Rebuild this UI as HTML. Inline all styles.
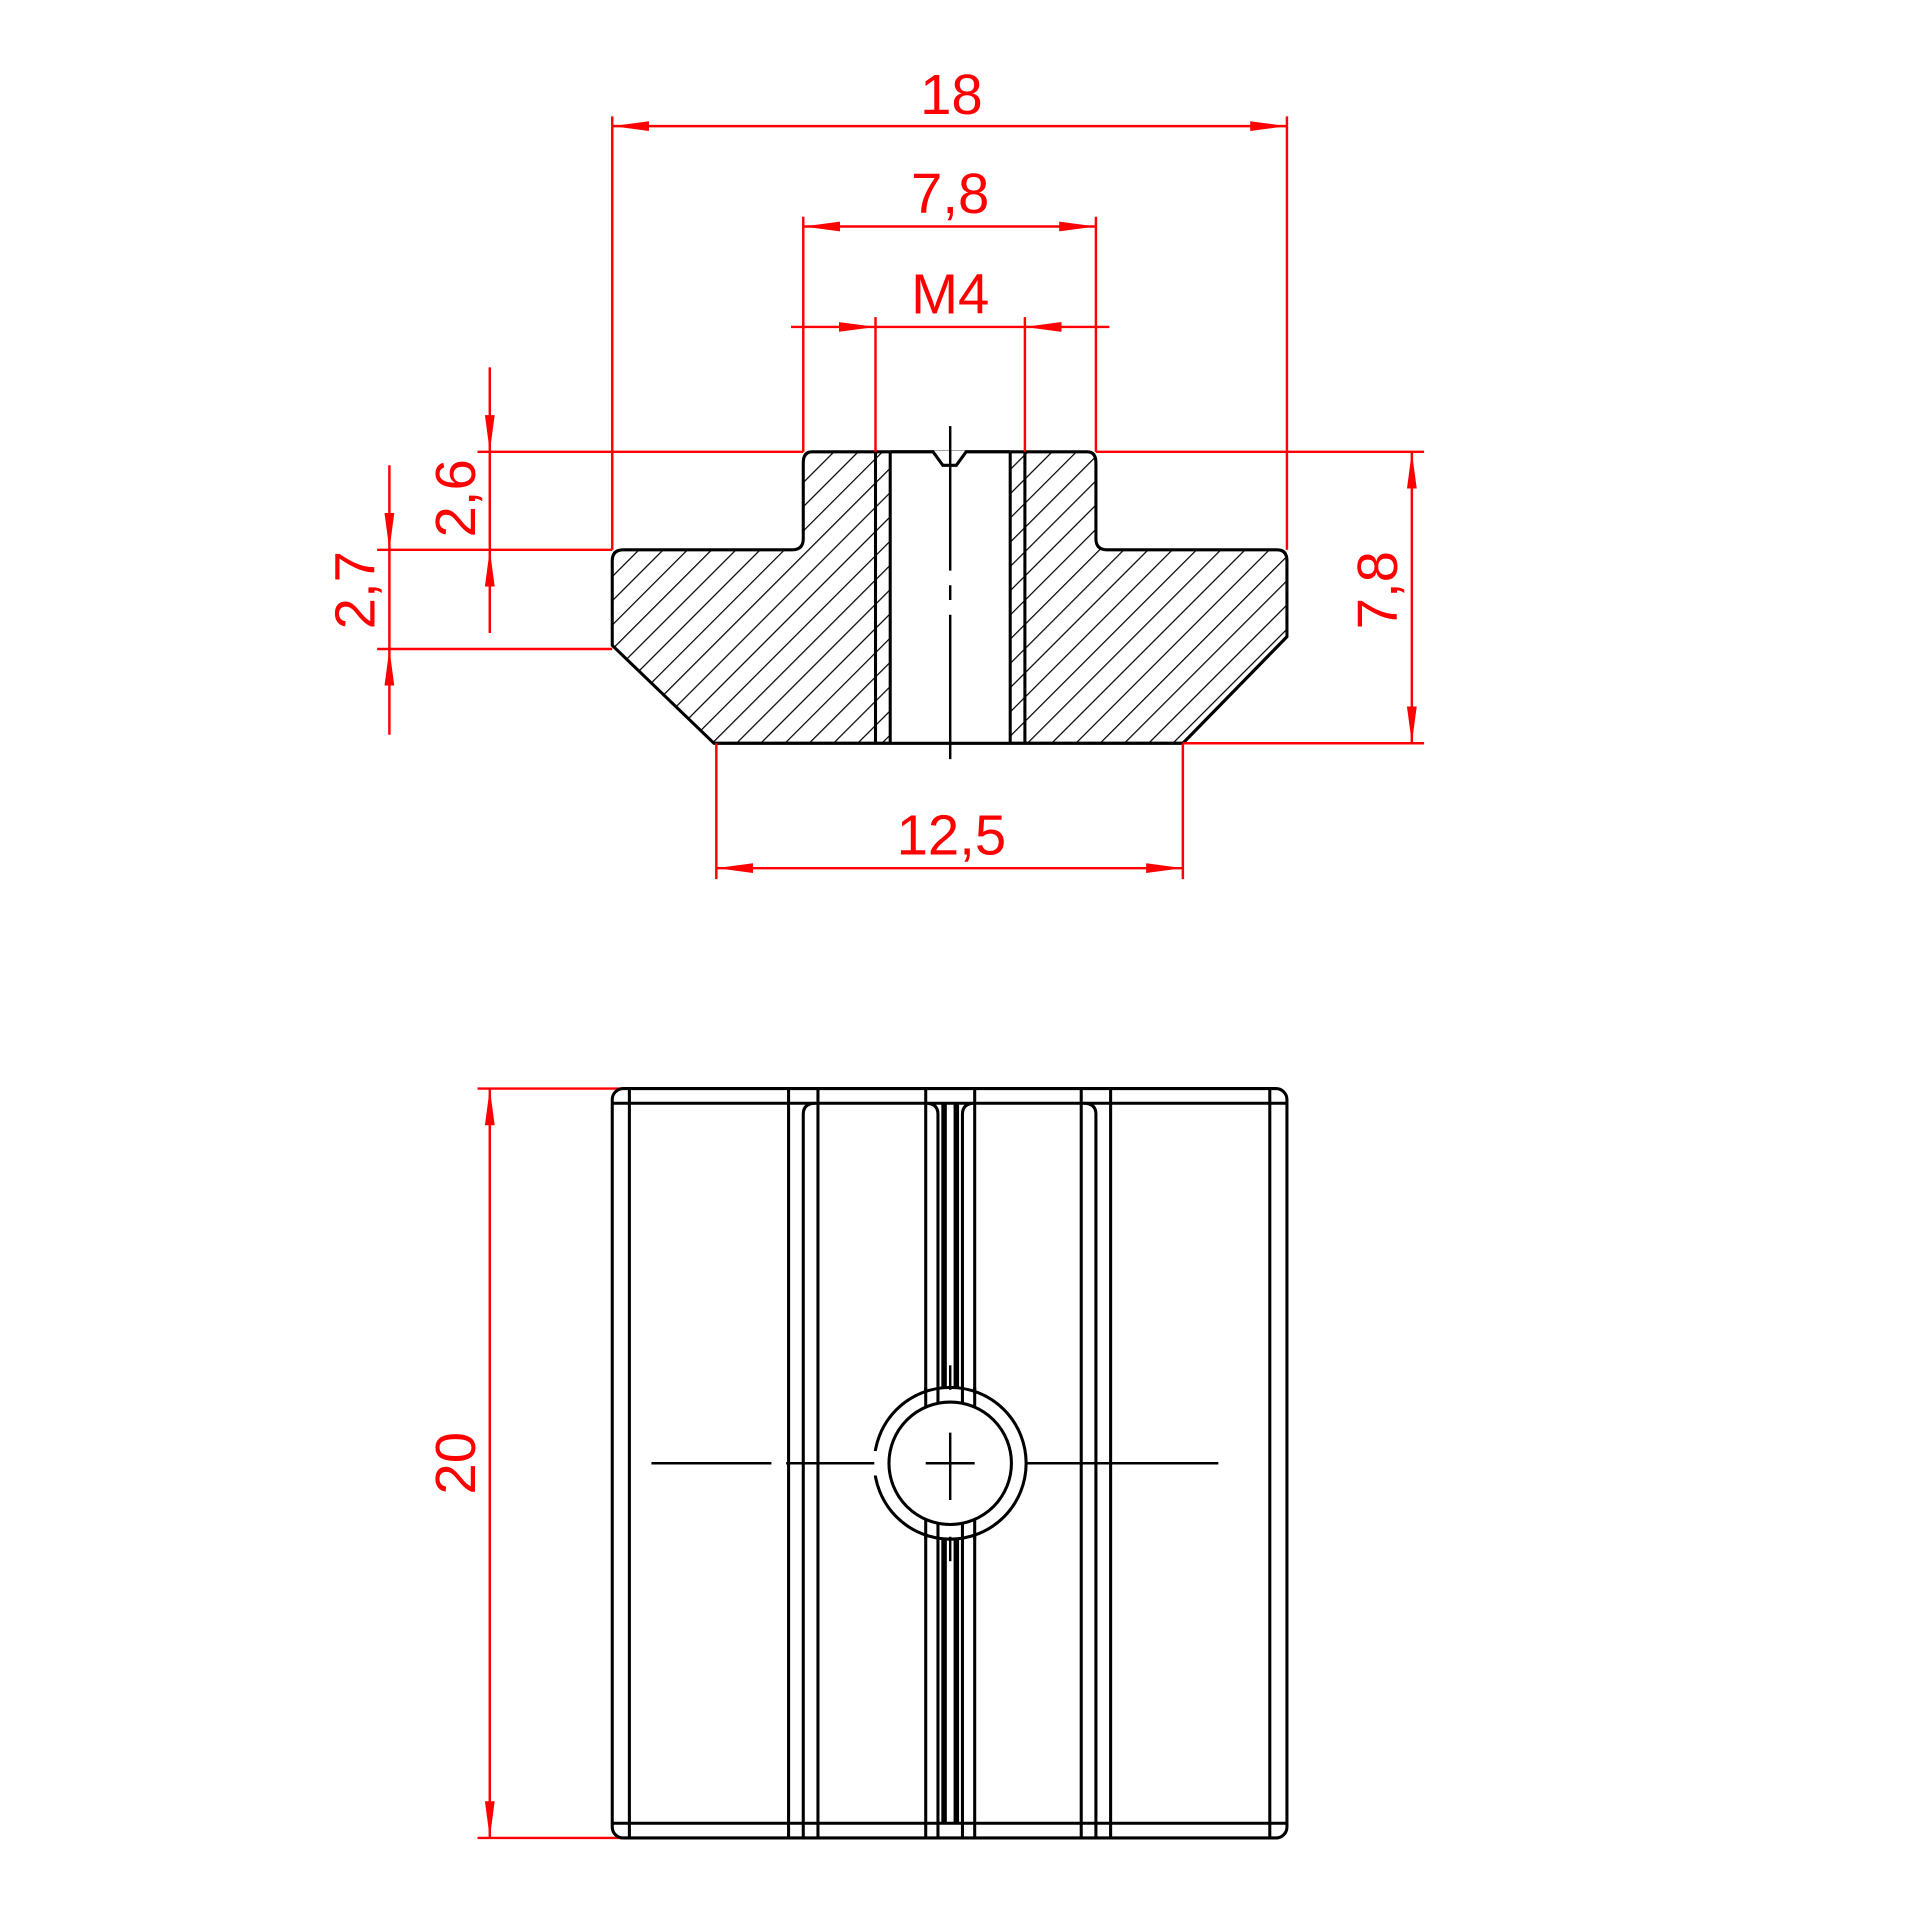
<!DOCTYPE html>
<html><head><style>html,body{margin:0;padding:0;background:#fff}svg{display:block}</style></head><body>
<svg width="1920" height="1920" viewBox="0 0 1568 1568" xmlns="http://www.w3.org/2000/svg">
<defs>
<pattern id="h" patternUnits="userSpaceOnUse" width="14" height="14" patternTransform="rotate(45)">
<line x1="0" y1="0" x2="0" y2="14" stroke="#000" stroke-width="2"/>
</pattern>
<marker id="a" viewBox="0 0 30 10" refX="30" refY="5" markerWidth="30" markerHeight="10" markerUnits="userSpaceOnUse" orient="auto-start-reverse">
<path d="M0,1 L30,5 L0,9 Z" fill="#f00"/>
</marker>
</defs>
<!-- top section -->
<g stroke="#000" stroke-width="2.5" fill="url(#h)">
<path d="M663,369 L888,369 Q895,369 895,378 L895,440 Q895,449 904,449 L1043,449 Q1051,449 1051,458 L1051,520 L966,607 L583,607 L500,527 L500,458 Q500,449 509,449 L647,449 Q656,449 656,440 L656,378 Q656,369 663,369 Z"/>
</g>
<rect x="727" y="368" width="98" height="240" fill="#fff"/>
<path d="M727,369 L762,369 L770,380 L781,380 L789,369 L825,369" fill="none" stroke="#000" stroke-width="2.5"/>
<g stroke="#000" stroke-width="2.5" fill="none">
<line x1="715" y1="369" x2="715" y2="607"/><line x1="727" y1="369" x2="727" y2="607"/>
<line x1="825" y1="369" x2="825" y2="607"/><line x1="837" y1="369" x2="837" y2="607"/>
<line x1="583" y1="607" x2="966" y2="607"/>
<line x1="1051" y1="520" x2="966" y2="607"/>
</g>
<line x1="776" y1="348" x2="776" y2="630" stroke="#000" stroke-width="2" stroke-dasharray="118,12,12,12"/>
<!-- dims red -->
<g stroke="#f00" stroke-width="2" fill="none">
<line x1="500" y1="95" x2="500" y2="449"/><line x1="1051" y1="95" x2="1051" y2="449"/>
<line x1="500" y1="103" x2="1051" y2="103" marker-start="url(#a)" marker-end="url(#a)"/>
<line x1="656" y1="177" x2="656" y2="369"/><line x1="895" y1="177" x2="895" y2="369"/>
<line x1="656" y1="185" x2="895" y2="185" marker-start="url(#a)" marker-end="url(#a)"/>
<line x1="715" y1="259" x2="715" y2="369"/><line x1="837" y1="259" x2="837" y2="369"/>
<line x1="646" y1="267" x2="715" y2="267" marker-end="url(#a)"/>
<line x1="906" y1="267" x2="837" y2="267" marker-end="url(#a)"/>
<line x1="715" y1="267" x2="837" y2="267"/>
<line x1="390" y1="369" x2="656" y2="369"/>
<line x1="895" y1="369" x2="1163" y2="369"/>
<line x1="308" y1="449" x2="500" y2="449"/>
<line x1="308" y1="530" x2="500" y2="530"/>
<line x1="966" y1="607" x2="1163" y2="607"/>
<line x1="400" y1="300" x2="400" y2="369" marker-end="url(#a)"/>
<line x1="400" y1="517" x2="400" y2="449" marker-end="url(#a)"/>
<line x1="400" y1="369" x2="400" y2="449"/>
<line x1="318" y1="380" x2="318" y2="449" marker-end="url(#a)"/>
<line x1="318" y1="600" x2="318" y2="530" marker-end="url(#a)"/>
<line x1="318" y1="449" x2="318" y2="530"/>
<line x1="1153" y1="369" x2="1153" y2="607" marker-start="url(#a)" marker-end="url(#a)"/>
<line x1="585" y1="607" x2="585" y2="718"/><line x1="966" y1="607" x2="966" y2="718"/>
<line x1="585" y1="709" x2="966" y2="709" marker-start="url(#a)" marker-end="url(#a)"/>
<line x1="390" y1="889" x2="510" y2="889"/><line x1="390" y1="1501" x2="510" y2="1501"/>
<line x1="400" y1="889" x2="400" y2="1501" marker-start="url(#a)" marker-end="url(#a)"/>
</g>
<g fill="#f00" font-family="Liberation Sans, sans-serif" font-size="46" text-anchor="middle">
<text x="777" y="93">18</text>
<text x="776" y="174">7,8</text>
<text x="776" y="256">M4</text>
<text x="777" y="698">12,5</text>
<text transform="translate(388,407) rotate(-90)">2,6</text>
<text transform="translate(306,482) rotate(-90)">2,7</text>
<text transform="translate(1141,482) rotate(-90)">7,8</text>
<text transform="translate(388,1195) rotate(-90)">20</text>
</g>
<!-- bottom view -->
<g stroke="#000" stroke-width="2.5" fill="none">
<rect x="500" y="889" width="551" height="612" rx="9"/>
<line x1="500" y1="901" x2="1051" y2="901"/>
<line x1="500" y1="1489" x2="1051" y2="1489"/>
<line x1="514" y1="889" x2="514" y2="1501"/><line x1="1037" y1="889" x2="1037" y2="1501"/>
<line x1="644" y1="889" x2="644" y2="1501"/><line x1="668" y1="889" x2="668" y2="1501"/>
<path d="M656,1501 L656,910 Q656,901 666,901"/>
<line x1="883" y1="889" x2="883" y2="1501"/><line x1="907" y1="889" x2="907" y2="1501"/>
<path d="M895,1501 L895,910 Q895,901 885,901"/>
<line x1="756" y1="889" x2="756" y2="1501"/><line x1="796" y1="889" x2="796" y2="1501"/>
<path d="M766,1501 L766,910 Q766,901 756,901"/><path d="M786,1501 L786,910 Q786,901 796,901"/>
</g>
<g stroke="#000" stroke-width="4.5"><line x1="771" y1="901" x2="771" y2="1489"/><line x1="781" y1="901" x2="781" y2="1489"/></g>
<circle cx="776" cy="1195" r="62" fill="#fff" stroke="#000" stroke-width="2.5"/>
<g stroke="#000" stroke-width="2.5">
<line x1="756" y1="1133" x2="756" y2="1150"/><line x1="766" y1="1133" x2="766" y2="1147"/>
<line x1="786" y1="1133" x2="786" y2="1147"/><line x1="796" y1="1133" x2="796" y2="1150"/>
<line x1="756" y1="1240" x2="756" y2="1257"/><line x1="766" y1="1243" x2="766" y2="1257"/>
<line x1="786" y1="1243" x2="786" y2="1257"/><line x1="796" y1="1240" x2="796" y2="1257"/>
</g>
<circle cx="776" cy="1195" r="50" fill="#fff" stroke="#000" stroke-width="2.5"/>
<rect x="712" y="1185" width="10" height="20" fill="#fff"/>
<g stroke="#000" stroke-width="2">
<line x1="532" y1="1195" x2="630" y2="1195"/><line x1="642" y1="1195" x2="714" y2="1195"/>
<line x1="838" y1="1195" x2="995" y2="1195"/>
<line x1="756" y1="1195" x2="796" y2="1195"/>
<line x1="776" y1="1170" x2="776" y2="1225"/>
<line x1="776" y1="1115" x2="776" y2="1135"/><line x1="776" y1="1255" x2="776" y2="1275"/>
</g>
</svg>
</body></html>
